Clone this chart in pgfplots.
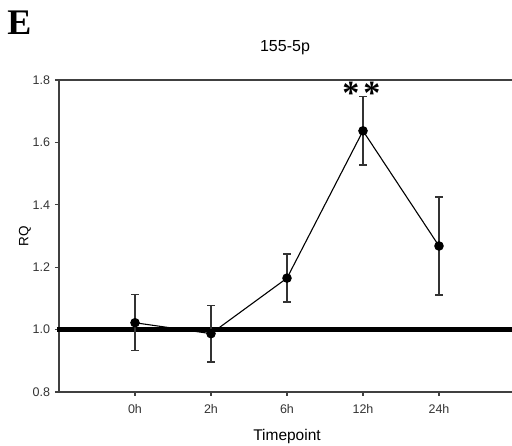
\documentclass[border=0pt]{standalone}
\usepackage{pgfplots}
\pgfplotsset{compat=1.18}
\usepackage{fontspec}
\setmainfont{Liberation Sans}
\newfontfamily\serifb{Liberation Serif}
\begin{document}
\begin{tikzpicture}
\begin{axis}[
  at={(0pt,0pt)}, anchor=south west,
  scale only axis, width=456pt, height=312pt,
  xmin=0, xmax=6, ymin=0.8, ymax=1.8,
  xtick={1,2,3,4,5}, xticklabels={0h,2h,6h,12h,24h},
  ytick={0.8,1.0,1.2,1.4,1.6,1.8},
  xtick pos=bottom, ytick pos=left,
  tick align=outside, major tick length=4pt,
  tick style={black!75, line width=1.1pt},
  axis line style={black!75, line width=1.3pt},
  /pgf/number format/assume math mode=true,
  yticklabel style={/pgf/number format/fixed, /pgf/number format/fixed zerofill, /pgf/number format/precision=1, font=\fontsize{12.5}{14}\selectfont, text=black!80, xshift=-1.5pt},
  xticklabel style={font=\fontsize{12.5}{14}\selectfont, text=black!80, yshift=-5pt},
  title={155-5p},
  title style={at={(axis description cs:0.5,1)}, anchor=center, yshift=26pt, xshift=-2pt, font=\fontsize{16}{18}\selectfont},
  xlabel={Timepoint},
  xlabel style={at={(axis description cs:0.5,0)}, anchor=center, yshift=-44pt, font=\fontsize{15.5}{17}\selectfont},
  ylabel={RQ},
  ylabel style={at={(axis description cs:0,0.5)}, anchor=center, yshift=34pt, font=\fontsize{13.5}{15}\selectfont},
  clip=false,
]
\addplot[black, line width=5pt, forget plot] coordinates {(-0.02,1.0) (6.2,1.0)};
\addplot[black, line width=1.1pt, mark=*, mark size=4.2pt, mark options={solid, fill=black},
  error bars/.cd, y dir=both, y explicit,
  error bar style={black!80, line width=1.3pt},
  error mark options={rotate=90, mark size=3.8pt, line width=1.3pt, black!80}]
  coordinates {
    (1,1.022) +- (0,0.090)
    (2,0.987) +- (0,0.091)
    (3,1.165) +- (0,0.077)
    (4,1.637) +- (0,0.109)
    (5,1.268) +- (0,0.157)
  };
\node[font=\serifb\bfseries\fontsize{34}{36}\selectfont, inner sep=0pt] at (axis cs:3.98,1.758) {*\kern4pt*};
\end{axis}
\node[font=\serifb\bfseries\fontsize{36}{38}\selectfont, inner sep=0pt] at (-39.5pt,369pt) {E};
\pgfresetboundingbox
\path[use as bounding box] (-59pt,-54pt) rectangle (453pt,392pt);
\end{tikzpicture}
\end{document}
